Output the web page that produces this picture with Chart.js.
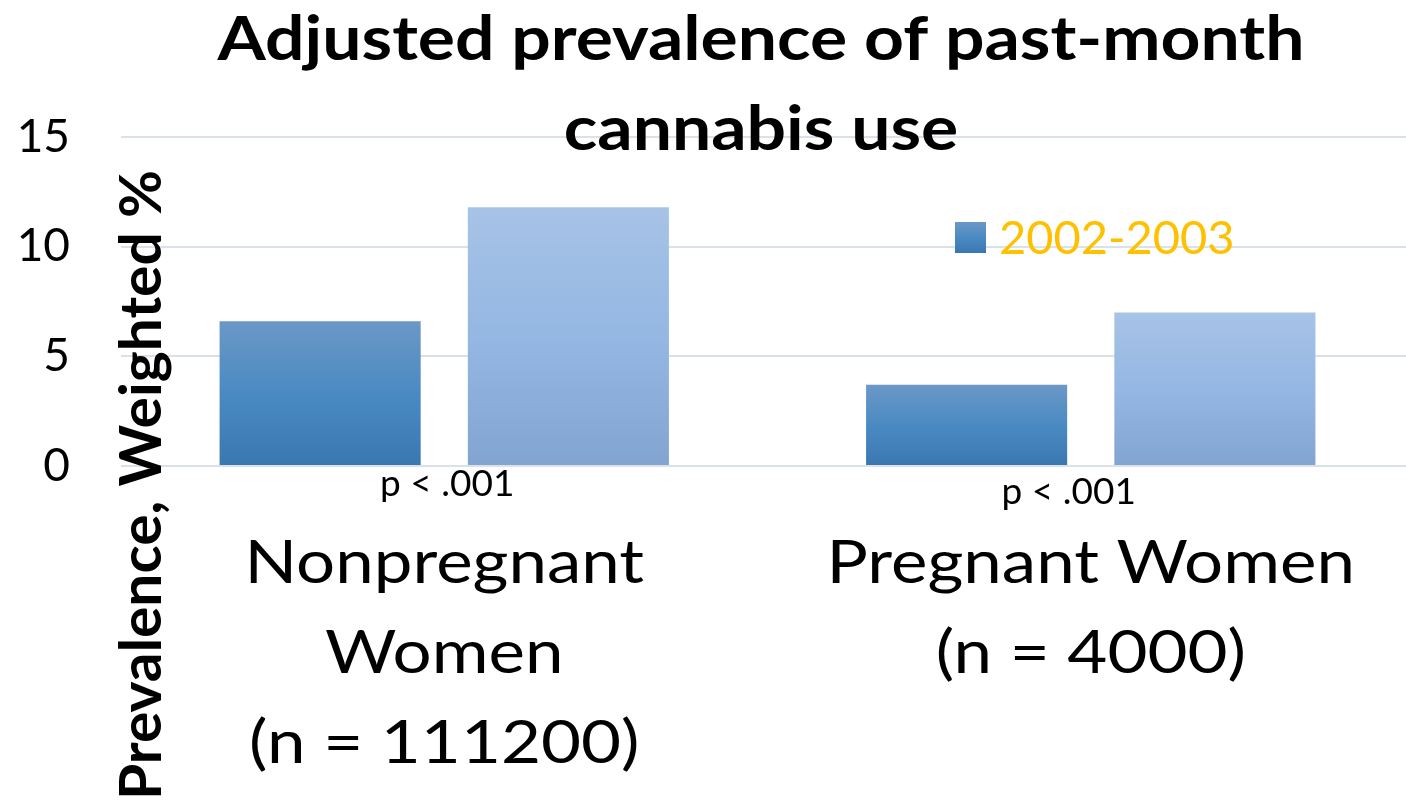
<!DOCTYPE html>
<html>
<head>
<meta charset="utf-8">
<script src="https://cdn.jsdelivr.net/npm/chart.js@4.4.1/dist/chart.umd.min.js"></script>
<style>
  html, body { margin: 0; padding: 0; background: #fff; overflow: hidden; }
  #wrap { position: relative; width: 1414px; height: 808px; }
</style>
</head>
<body>
<div id="wrap"><canvas id="prevChart"></canvas></div>
<script>
// data
const titleLines = ['Adjusted prevalence of past-month', 'cannabis use'];
const yTitle = 'Prevalence, Weighted %';
const groups = [
    ['Nonpregnant', 'Women', '(n = 111200)'],
    ['Pregnant Women', '(n = 4000)']
];
const seriesNames = ['2002-2003', ''];
const earlyValues = [6.6, 3.7];
const lateValues = [11.8, 7.0];
const pValues = ['p < .001', 'p < .001'];
const yTicks = [0, 5, 10, 15];

const darkStops = ['#6b98c7', '#4a8ac2', '#3a77b1'];
const lightStops = ['#a7c3e6', '#94b7e3', '#81a4d0'];

function barFill(stops) {
    return function (c) {
        const chart = c.chart;
        const y = chart.scales.y;
        if (!chart.chartArea || !y || c.raw === undefined) return stops[1];
        const top = y.getPixelForValue(c.raw);
        const bottom = y.getPixelForValue(0);
        const g = chart.ctx.createLinearGradient(0, top, 0, bottom);
        g.addColorStop(0, stops[0]);
        g.addColorStop(0.5, stops[1]);
        g.addColorStop(1, stops[2]);
        return g;
    };
}

// draws text squeezed/stretched along its direction to a given length
function fitText(ctx, text, cx, baseY, length) {
    const w = ctx.measureText(text).width;
    ctx.save();
    ctx.translate(cx, baseY);
    ctx.scale(length / w, 1);
    ctx.textAlign = 'center';
    ctx.textBaseline = 'alphabetic';
    ctx.fillText(text, 0, 0);
    ctx.restore();
}

const overlay = {
    id: 'overlay',
    afterDraw(chart) {
        const ctx = chart.ctx;
        const area = chart.chartArea;
        const x = chart.scales.x;
        ctx.save();
        ctx.fillStyle = '#000';

        // title, two bold lines across the top
        ctx.font = 'bold 62px Lato';
        const squeeze = 1087 / ctx.measureText(titleLines[0]).width;
        titleLines.forEach((t, i) => {
            const w = ctx.measureText(t).width * squeeze;
            fitText(ctx, t, 761, 60 + i * 90, w);
        });

        // y axis title, rotated, laid over the left edge of the plot
        ctx.save();
        ctx.translate(area.left + 40, 485);
        ctx.rotate(-Math.PI / 2);
        ctx.font = 'bold 58px Lato';
        fitText(ctx, yTitle, 0, 0, 630);
        ctx.restore();

        // category labels, a little wider than the plain face
        ctx.font = '60px Lato';
        groups.forEach((lines, i) => {
            const cx = x.getPixelForValue(i);
            lines.forEach((t, k) => {
                fitText(ctx, t, cx, area.bottom + 117 + k * 90, ctx.measureText(t).width * 1.15);
            });
        });

        // significance notes under each group
        const shifts = [[3, 0], [-22, 8]];
        ctx.font = '37px Lato';
        ctx.textAlign = 'center';
        ctx.textBaseline = 'alphabetic';
        pValues.forEach((p, i) => {
            ctx.fillText(p, x.getPixelForValue(i) + shifts[i][0], area.bottom + 30 + shifts[i][1]);
        });

        // legend entry for the first series only
        const ds = chart.data.datasets[0];
        const lx = area.left + 834, ly = 222, box = 31;
        const g = ctx.createLinearGradient(0, ly, 0, ly + box);
        g.addColorStop(0, darkStops[0]);
        g.addColorStop(0.5, darkStops[1]);
        g.addColorStop(1, darkStops[2]);
        ctx.fillStyle = g;
        ctx.fillRect(lx, ly, box, box);
        ctx.fillStyle = '#ffc000';
        ctx.font = '47px Lato';
        ctx.textAlign = 'left';
        ctx.fillText(ds.label, lx + box + 13, ly + box + 1);
        ctx.restore();
    }
};

const chart = new Chart(document.getElementById('prevChart'), {
    type: 'bar',
    data: {
        labels: groups,
        datasets: [{
            label: seriesNames[0],
            data: earlyValues,
            backgroundColor: barFill(darkStops),
            borderWidth: 0
        }, {
            label: seriesNames[1],
            data: lateValues,
            backgroundColor: barFill(lightStops),
            borderWidth: 0
        }]
    },
    options: {
        responsive: true,
        maintainAspectRatio: false,
        animation: false,
        devicePixelRatio: 1,
        categoryPercentage: 0.768,
        barPercentage: 0.81,
        layout: {
            padding: { top: 137, right: 0, left: 0, bottom: 0 }
        },
        plugins: {
            legend: { display: false },
            title: { display: false },
            tooltip: { enabled: false }
        },
        scales: {
            x: {
                grid: { display: false, drawTicks: false },
                border: { display: false },
                ticks: { display: false },
                afterFit(scale) { scale.height = 342; }
            },
            y: {
                min: 0,
                max: 15,
                afterBuildTicks(scale) { scale.ticks = yTicks.map(v => ({ value: v })); },
                grid: { color: '#dbe1e8', lineWidth: 2, drawTicks: false },
                border: { display: false },
                ticks: {
                    color: '#000',
                    padding: 51,
                    font: { family: 'Lato', size: 46 }
                },
                afterFit(scale) { scale.width = 121; }
            }
        }
    },
    plugins: [overlay]
});
</script>
</body>
</html>
